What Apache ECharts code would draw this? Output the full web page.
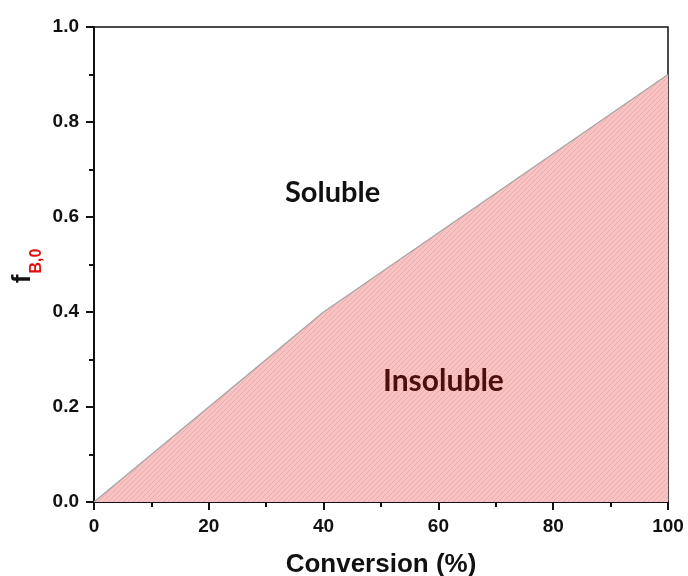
<!DOCTYPE html>
<html>
<head>
<meta charset="utf-8">
<script src="https://cdn.jsdelivr.net/npm/echarts@6/dist/echarts.min.js"></script>
<style>
  html, body { margin: 0; padding: 0; background: #fff; }
  #chart { width: 688px; height: 576px; }
</style>
</head>
<body>
<div id="chart"></div>
<script>
// Solubility boundary: initial fraction f_B,0 versus conversion
const conversion = [0, 40, 100];
const fB0 = [0, 0.4, 0.9];
const xTicks = [0, 20, 40, 60, 80, 100];
const yTicks = [0, 0.2, 0.4, 0.6, 0.8, 1.0];

// Diagonal hatch tile for the insoluble region
function hatchPattern() {
  const s = 5;
  const c = document.createElement('canvas');
  c.width = s; c.height = s;
  const g = c.getContext('2d');
  g.fillStyle = '#f9c3c3';
  g.fillRect(0, 0, s, s);
  g.strokeStyle = '#eaa9a9';
  g.lineWidth = 0.9;
  g.beginPath();
  g.moveTo(-1, s + 1); g.lineTo(s + 1, -1);
  g.moveTo(-1, 1); g.lineTo(1, -1);
  g.moveTo(s - 1, s + 1); g.lineTo(s + 1, s - 1);
  g.stroke();
  return c;
}

const chart = echarts.init(document.getElementById('chart'), null, { renderer: 'canvas' });
const axisFont = { fontFamily: 'Liberation Sans, Arial', fontWeight: 'bold', fontSize: 19, color: '#111' };
const tickStyle = { width: 2, color: '#111' };

chart.setOption({
  animation: false,
  grid: {
    left: 94, right: 20, top: 27, bottom: 74, containLabel: false, outerBoundsMode: 'none',
    show: true, borderColor: '#111', borderWidth: 1.5, backgroundColor: 'transparent'
  },
  xAxis: {
    type: 'value', min: xTicks[0], max: xTicks[xTicks.length - 1], interval: 20,
    axisLine: { lineStyle: { color: '#111', width: 2 } },
    axisTick: { length: 8, lineStyle: tickStyle },
    minorTick: { show: true, splitNumber: 2, length: 5, lineStyle: tickStyle },
    splitLine: { show: false },
    axisLabel: Object.assign({ margin: 15 }, axisFont),
    name: 'Conversion (%)', nameLocation: 'middle', nameGap: 50,
    nameTextStyle: { fontFamily: 'Liberation Sans, Arial', fontWeight: 'bold', fontSize: 26, color: '#111' }
  },
  yAxis: {
    type: 'value', min: yTicks[0], max: yTicks[yTicks.length - 1], interval: 0.2,
    axisLine: { show: true, lineStyle: { color: '#111', width: 2 } },
    axisTick: { show: true, length: 8, lineStyle: tickStyle },
    minorTick: { show: true, splitNumber: 2, length: 5, lineStyle: tickStyle },
    splitLine: { show: false },
    axisLabel: Object.assign({ margin: 15, formatter: v => v.toFixed(1) }, axisFont)
  },
  series: [{
    type: 'line',
    data: conversion.map((x, i) => [x, fB0[i]]),
    symbol: 'none',
    lineStyle: { color: '#a8a8a8', width: 1.5 },
    areaStyle: { color: { image: hatchPattern(), repeat: 'repeat' }, opacity: 1 },
    z: 1
  }],
  graphic: [
    { type: 'text', z: 100, left: 285, top: 178, style: { text: 'Soluble', font: 'bold 29px Lato, "Open Sans", sans-serif', fill: '#111' } },
    { type: 'text', z: 100, left: 383, top: 366, style: { text: 'Insoluble', font: 'bold 30px Lato, "Open Sans", sans-serif', fill: '#4d0e0e' } },
    { type: 'text', z: 100, x: 23, y: 279, rotation: Math.PI / 2, style: { text: 'f', font: 'bold 26px "Liberation Sans", Arial', fill: '#111', align: 'center', verticalAlign: 'middle' } },
    { type: 'text', z: 100, x: 37, y: 261, rotation: Math.PI / 2, style: { text: 'B,0', font: 'bold 16px "Liberation Sans", Arial', fill: '#e01010', align: 'center', verticalAlign: 'middle' } }
  ]
});
</script>
</body>
</html>
